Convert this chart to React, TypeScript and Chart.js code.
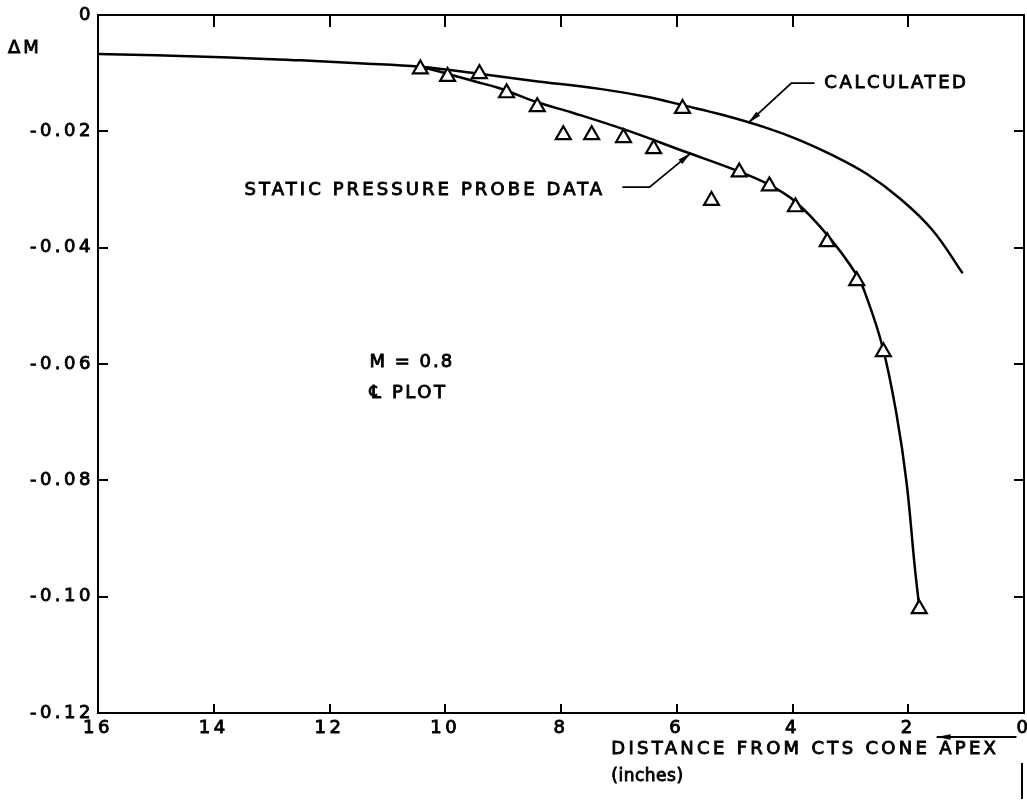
import React, { useEffect, useRef } from "react";
import { Chart, registerables } from "chart.js";

Chart.register(...registerables);

// Axis ticks (inches from apex, reversed) and ΔM values
const xTickValues = [16, 14, 12, 10, 8, 6, 4, 2, 0];
const yTickValues = [0, -0.02, -0.04, -0.06, -0.08, -0.1, -0.12];

// Calculated ΔM curve
const calcX = [16, 14, 12.5, 11.5, 10.43, 9.41, 8.5, 7.33, 6.5, 5.9, 5.2, 4.45, 3.88, 3.31, 2.72, 2.15, 1.58, 1.06];
const calcY = [-0.0067, -0.0072, -0.0078, -0.0083, -0.0089, -0.0101, -0.0113, -0.0127, -0.0141, -0.0155, -0.0172, -0.0194, -0.0215, -0.0241, -0.0273, -0.0315, -0.037, -0.0444];

// Faired curve through the static pressure probe data
const fitX = [10.43, 9.96, 9.5, 9.06, 8.41, 7.8, 6.87, 5.83, 5.03, 4.4, 3.95, 3.4, 2.89, 2.72, 2.44, 2.2, 2.03, 1.89, 1.81];
const fitY = [-0.0089, -0.0101, -0.0114, -0.0126, -0.015, -0.0168, -0.0198, -0.0236, -0.0265, -0.0292, -0.0321, -0.0378, -0.0447, -0.0485, -0.0572, -0.0688, -0.0803, -0.0946, -0.1018];

// Static pressure probe measurements
const probeX = [10.43, 9.96, 9.41, 8.94, 8.41, 7.96, 7.47, 6.92, 6.4, 5.9, 5.4, 4.92, 4.4, 3.95, 3.4, 2.89, 2.43, 1.81];
const probeY = [-0.0093, -0.0106, -0.0101, -0.0134, -0.0158, -0.0206, -0.0206, -0.0211, -0.023, -0.0161, -0.0319, -0.027, -0.0294, -0.033, -0.039, -0.0457, -0.0579, -0.1021];

const FONT = '"DejaVu Sans", sans-serif';
const TEXT_SIZE = 18;
const TEXT_STROKE = 0.9;

const toPoints = (xs: number[], ys: number[]) => xs.map((x, i) => ({ x, y: ys[i] }));

function drawText(ctx: CanvasRenderingContext2D, text: string, px: number, py: number, spacing = 3, size = TEXT_SIZE) {
  ctx.font = `${size}px ${FONT}`;
  (ctx as any).letterSpacing = `${spacing}px`;
  ctx.textAlign = "left";
  ctx.textBaseline = "middle";
  ctx.fillStyle = "#000";
  ctx.strokeStyle = "#000";
  ctx.lineWidth = TEXT_STROKE;
  ctx.fillText(text, px, py);
  ctx.strokeText(text, px, py);
}

function drawLeader(ctx: CanvasRenderingContext2D, pts: [number, number][], width = 1.8) {
  ctx.lineWidth = width;
  ctx.beginPath();
  ctx.moveTo(pts[0][0], pts[0][1]);
  for (let i = 1; i < pts.length; i++) ctx.lineTo(pts[i][0], pts[i][1]);
  ctx.stroke();
  const [ex, ey] = pts[pts.length - 1];
  const [sx, sy] = pts[pts.length - 2];
  const ang = Math.atan2(ey - sy, ex - sx);
  const len = 14;
  const hw = 2.8;
  ctx.beginPath();
  ctx.moveTo(ex, ey);
  ctx.lineTo(ex - len * Math.cos(ang) + hw * Math.sin(ang), ey - len * Math.sin(ang) - hw * Math.cos(ang));
  ctx.lineTo(ex - len * Math.cos(ang) - hw * Math.sin(ang), ey - len * Math.sin(ang) + hw * Math.cos(ang));
  ctx.closePath();
  ctx.fill();
}

const framePlugin = {
  id: "frame",
  beforeDraw(chart: any) {
    chart.ctx.letterSpacing = "3.5px";
  },
  afterDraw(chart: any) {
    const { ctx, chartArea: a, scales } = chart;
    const xs = scales.x;
    const ys = scales.y;
    const X = (v: number) => xs.getPixelForValue(v);
    const Y = (v: number) => ys.getPixelForValue(v);
    ctx.save();
    ctx.strokeStyle = "#000";
    ctx.fillStyle = "#000";
    ctx.lineWidth = 2;

    // top and right edges of the frame
    ctx.beginPath();
    ctx.moveTo(a.left, a.top);
    ctx.lineTo(a.right, a.top);
    ctx.lineTo(a.right, a.bottom);
    ctx.stroke();

    // inward ticks on all four sides
    ctx.beginPath();
    for (const t of xs.ticks) {
      if (t.value === xs.min || t.value === xs.max) continue;
      const px = Math.round(X(t.value));
      ctx.moveTo(px, a.top);
      ctx.lineTo(px, a.top + 12);
      ctx.moveTo(px, a.bottom);
      ctx.lineTo(px, a.bottom - 9);
    }
    for (const t of ys.ticks) {
      if (t.value === ys.min || t.value === ys.max) continue;
      const py = Math.round(Y(t.value));
      ctx.moveTo(a.left, py);
      ctx.lineTo(a.left + 10, py);
      ctx.moveTo(a.right, py);
      ctx.lineTo(a.right - 10, py);
    }
    ctx.stroke();

    // axis title for ΔM
    drawText(ctx, "ΔM", 8, Y(-0.0058), 3);

    // annotations
    drawText(ctx, "CALCULATED", X(3.45), Y(-0.0117), 2.6);
    drawText(ctx, "STATIC PRESSURE PROBE DATA", X(13.47), Y(-0.0301), 3.1);
    drawText(ctx, "M = 0.8", X(11.31), Y(-0.0597), 2);
    drawText(ctx, "℄ PLOT", X(11.31), Y(-0.065), 2.6);

    drawLeader(ctx, [
      [X(3.62), Y(-0.0117)],
      [X(4.02), Y(-0.0117)],
      [X(4.77), Y(-0.0186)],
    ]);
    drawLeader(ctx, [
      [X(6.94), Y(-0.0296)],
      [X(6.47), Y(-0.0296)],
      [X(5.75), Y(-0.0237)],
    ]);

    // x-axis caption with direction arrow
    drawLeader(ctx, [
      [X(0.13), a.bottom + 24],
      [X(1.51), a.bottom + 24],
    ], 2);
    drawText(ctx, "DISTANCE FROM CTS CONE APEX", X(7.13), a.bottom + 36, 3.3);
    drawText(ctx, "(inches)", X(7.13), a.bottom + 64, 0.5, 17);
    ctx.lineWidth = 2;
    ctx.beginPath();
    ctx.moveTo(a.right - 2, a.bottom + 50);
    ctx.lineTo(a.right - 2, a.bottom + 86);
    ctx.stroke();
    ctx.restore();
  },
};

export default function App() {
  const ref = useRef<HTMLCanvasElement | null>(null);

  useEffect(() => {
    if (!ref.current) return;
    const tickFont = { family: FONT, size: TEXT_SIZE };
    const lineStyle = {
      showLine: true,
      borderColor: "#000",
      borderWidth: 2.5,
      pointRadius: 0,
      tension: 0.4,
      order: 1,
    };
    const chart = new Chart(ref.current, {
      type: "scatter",
      data: {
        datasets: [
          {
            label: "Static pressure probe data",
            data: toPoints(probeX, probeY),
            showLine: false,
            pointStyle: "triangle",
            pointRadius: 8.6,
            pointBackgroundColor: "#fff",
            pointBorderColor: "#000",
            pointBorderWidth: 2.2,
            order: 0,
          },
          { label: "Calculated", data: toPoints(calcX, calcY), ...lineStyle },
          { label: "Probe fairing", data: toPoints(fitX, fitY), ...lineStyle },
        ],
      },
      options: {
        animation: false,
        responsive: false,
        layout: { autoPadding: false, padding: { top: 15, right: 3, left: 0, bottom: 0 } },
        plugins: { legend: { display: false }, tooltip: { enabled: false } },
        scales: {
          x: {
            type: "linear",
            reverse: true,
            min: 0,
            max: 16,
            afterBuildTicks: (s: any) => {
              s.ticks = xTickValues.map((v) => ({ value: v }));
            },
            ticks: {
              color: "#000",
              font: tickFont,
              padding: 5,
              maxRotation: 0,
              autoSkip: false,
              textStrokeColor: "#000",
              textStrokeWidth: TEXT_STROKE,
              callback: (v: any) => String(v),
            },
            grid: { display: false, drawTicks: false },
            border: { display: true, color: "#000", width: 2 },
            afterFit: (s: any) => {
              s.height = 91;
              s.paddingLeft = 0;
              s.paddingRight = 0;
            },
          },
          y: {
            type: "linear",
            min: -0.12,
            max: 0,
            afterBuildTicks: (s: any) => {
              s.ticks = yTickValues.map((v) => ({ value: v }));
            },
            ticks: {
              color: "#000",
              font: tickFont,
              padding: 4,
              autoSkip: false,
              textStrokeColor: "#000",
              textStrokeWidth: TEXT_STROKE,
              callback: (v: any) => (Number(v) === 0 ? "0" : Number(v).toFixed(2)),
            },
            grid: { display: false, drawTicks: false },
            border: { display: true, color: "#000", width: 2 },
            afterFit: (s: any) => {
              s.width = 98;
              s.paddingTop = 0;
              s.paddingBottom = 0;
            },
          },
        },
      },
      plugins: [framePlugin],
    } as any);
    return () => chart.destroy();
  }, []);

  return (
    <div style={{ position: "absolute", left: 0, top: 0, width: 1027, height: 804, background: "#fff" }}>
      <canvas ref={ref} width={1027} height={804} style={{ display: "block" }} />
    </div>
  );
}
